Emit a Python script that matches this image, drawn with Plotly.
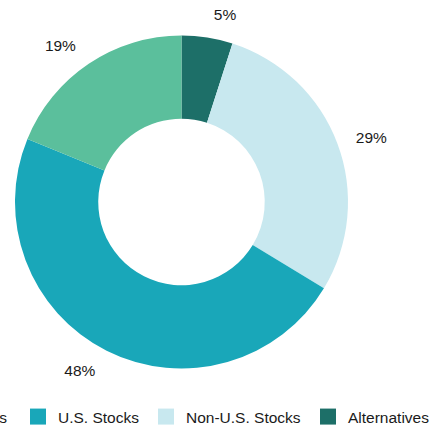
import plotly.graph_objects as go

labels = ["Bonds", "U.S. Stocks", "Non-U.S. Stocks", "Alternatives"]
values = [19, 48, 29, 5]
colors = ["#5bbf9c", "#19a7b9", "#c8e8ef", "#1d6f68"]

W, H = 439, 428
FONT = "Liberation Sans, Arial, sans-serif"
TXT = "#1a1a1a"
FS = 15.5
# legend square centres (px) for the visible entries
legend_px = {"U.S. Stocks": 38, "Non-U.S. Stocks": 166, "Alternatives": 328}

cx, cy, r = 181.5, 202, 166.5
lab_r = min(r + 15, cx)  # labels sit further out than plotly's default


def dom(rad):
    return dict(x=[(cx - rad) / W, (cx + rad) / W],
                y=[1 - (cy + rad) / H, 1 - (cy - rad) / H])


fig = go.Figure()
# slices run clockwise from 12 o'clock: Alternatives, Non-U.S., U.S., Bonds
fig.add_trace(go.Pie(
    labels=labels[::-1], values=values[::-1], sort=False, direction="clockwise",
    rotation=0, hole=0.5,
    marker=dict(colors=colors[::-1], line=dict(width=0)),
    textinfo="none", showlegend=False, hoverinfo="skip",
    domain=dom(r),
))
# transparent copy, slightly larger, that only carries the outside labels
fig.add_trace(go.Pie(
    labels=labels[::-1], values=values[::-1], sort=False, direction="clockwise",
    rotation=0, hole=0.9,
    marker=dict(colors=["rgba(0,0,0,0)"] * len(values), line=dict(width=0)),
    texttemplate="%{value}%", textposition="outside",
    textfont=dict(size=FS, color=TXT, family=FONT),
    showlegend=False, hoverinfo="skip",
    domain=dom(lab_r),
))

layout_legends = {}
n = 0
for lab, col in zip(labels, colors):
    if lab not in legend_px:
        # first legend entry is cut off by the left edge in the reference
        fig.add_annotation(
            text=lab, xref="paper", yref="paper", x=9 / W, y=1 - 417 / H,
            xanchor="right", yanchor="middle", showarrow=False,
            font=dict(size=FS, color=TXT, family=FONT),
        )
        continue
    n += 1
    key = "legend" if n == 1 else f"legend{n}"
    fig.add_trace(go.Scatter(
        x=[None], y=[None], mode="markers", name=lab, legend=key,
        marker=dict(symbol="square", size=16, color=col), hoverinfo="skip",
    ))
    layout_legends[key] = dict(
        orientation="h", xref="container", yref="container",
        x=(legend_px[lab] - 20) / W, xanchor="left",
        y=1 - 417 / H, yanchor="middle",
        font=dict(size=FS, color=TXT, family=FONT),
        bgcolor="rgba(0,0,0,0)", borderwidth=0,
    )

fig.update_layout(
    width=W, height=H,
    margin=dict(l=0, r=0, t=0, b=0, autoexpand=False),
    paper_bgcolor="white", plot_bgcolor="white",
    xaxis=dict(visible=False), yaxis=dict(visible=False),
    **layout_legends,
)
fig.write_html("out.html")
